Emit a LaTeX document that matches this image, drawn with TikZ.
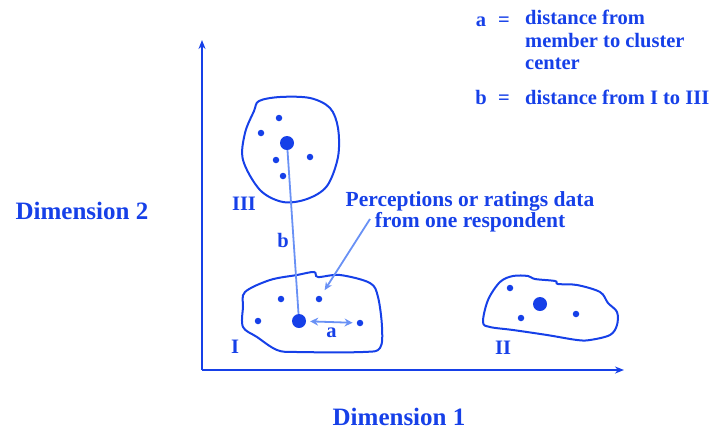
\documentclass[tikz,border=0pt]{standalone}
\usepackage{fontspec}
\setmainfont{Liberation Serif}[BoldFont={Liberation Serif Bold}]
\usetikzlibrary{arrows.meta,positioning}
\definecolor{dimblue}{RGB}{22,64,232}
\definecolor{lineblue}{RGB}{105,145,245}

\begin{document}
\begin{tikzpicture}[x=1pt, y=-1pt,
    lbl/.style={text=dimblue, font=\fontsize{20.5}{22.5}\selectfont\bfseries, inner sep=0pt},
    notelbl/.style={text=dimblue, font=\fontsize{21.5}{21.5}\selectfont\bfseries, inner sep=0pt},
    biglbl/.style={text=dimblue, font=\fontsize{25}{28}\selectfont\bfseries, inner sep=0pt, text depth=0pt},
    axis/.style={-{Stealth[length=9pt,width=7pt]}, line width=2.2pt, dimblue},
    blob/.style={draw=dimblue, line width=2pt},
    member/.style={circle, fill=dimblue, minimum size=6.5pt, inner sep=0pt},
    centre/.style={circle, fill=dimblue, minimum width=13pt, minimum height=14pt, inner sep=0pt},
    link/.style={line width=1.8pt, lineblue},
    arr/.style={-{Stealth[length=8pt,width=7pt]}, line width=1.8pt, lineblue}]

    \useasboundingbox (0,0) rectangle (720,432);

    % Axes
    \coordinate (origin) at (202,370);
    \coordinate (ytop) at (202,40);
    \coordinate (xend) at (624,370);
    \draw[axis] (origin) -- (ytop);
    \draw[axis] (origin) -- (xend);
    \node[biglbl, anchor=base] (dim2) at (82,219) {Dimension 2};
    \node[biglbl, anchor=base] (dim1) at (399,425) {Dimension 1};

    % Cluster III
    \draw[blob] plot[smooth cycle, tension=0.55] coordinates {
        (259,101) (280,97) (310,98) (330,108) (338,128) (338,157)
        (327,186) (307,199) (283,202) (260,190) (243,160) (245,133) (254,111)};
    \node[centre] (c3) at (287,143) {};
    \node[member] (m31) at (279,118) {};
    \node[member] (m32) at (261,133) {};
    \node[member] (m33) at (276,160) {};
    \node[member] (m34) at (310,157) {};
    \node[member] (m35) at (283,176) {};
    \node[lbl] (lab3) at (244,204) {III};

    % Cluster I
    \draw[blob] plot[smooth cycle, tension=0.55] coordinates {
        (245,292) (270,280) (297,275) (314,272) (318,277) (340,275)
        (370,283) (378,297) (382,327) (380,348) (363,352) (297,352)
        (277,350) (257,337) (243,327) (243,307)};
    \node[centre] (c1) at (299,321) {};
    \node[member] (m11) at (258,321) {};
    \node[member] (m12) at (281,299) {};
    \node[member] (m13) at (319,299) {};
    \node[member] (m14) at (360,323) {};
    \node[lbl] (lab1) at (235,347) {I};

    % Cluster II
    \draw[blob] plot[smooth cycle, tension=0.55] coordinates {
        (483,322) (488,300) (500,282) (513,276) (528,276) (535,279)
        (555,281) (558,284) (577,285) (600,292) (608,303) (617,312)
        (617,325) (610,335) (590,340) (577,340) (547,335) (513,330) (490,327)};
    \node[centre] (c2) at (540,304) {};
    \node[member] (m21) at (510,288) {};
    \node[member] (m22) at (521,318) {};
    \node[member] (m23) at (576,314) {};
    \node[lbl] (lab2) at (503,348) {II};

    % Distances
    \draw[link] (c3) -- node[lbl, pos=0.55, left=4pt] {b} (c1);
    \draw[link, {Stealth[length=8pt,width=8pt]}-{Stealth[length=8pt,width=8pt]}, shorten <=4pt, shorten >=4pt]
        (c1) -- node[lbl, below=5pt] {a} (m14);

    % Annotation
    \node[notelbl, align=center] (note) at (470,212) {Perceptions or ratings data\\from one respondent};
    \coordinate (notefoot) at (370,219);
    \draw[arr, shorten >=7pt] (notefoot) -- (m13);

    % Legend
    \node[lbl, anchor=base] (keya) at (481,26) {a};
    \node[lbl, anchor=base] (eqa) at (504,26) {=};
    \node[lbl, anchor=north west, align=left] (defa) at (525,10) {distance from\\member to cluster\\center};
    \node[lbl, anchor=base] (keyb) at (481,104) {b};
    \node[lbl, anchor=base] (eqb) at (504,104) {=};
    \node[lbl, anchor=base west] (defb) at (525,104) {distance from I to III};
\end{tikzpicture}
\end{document}
